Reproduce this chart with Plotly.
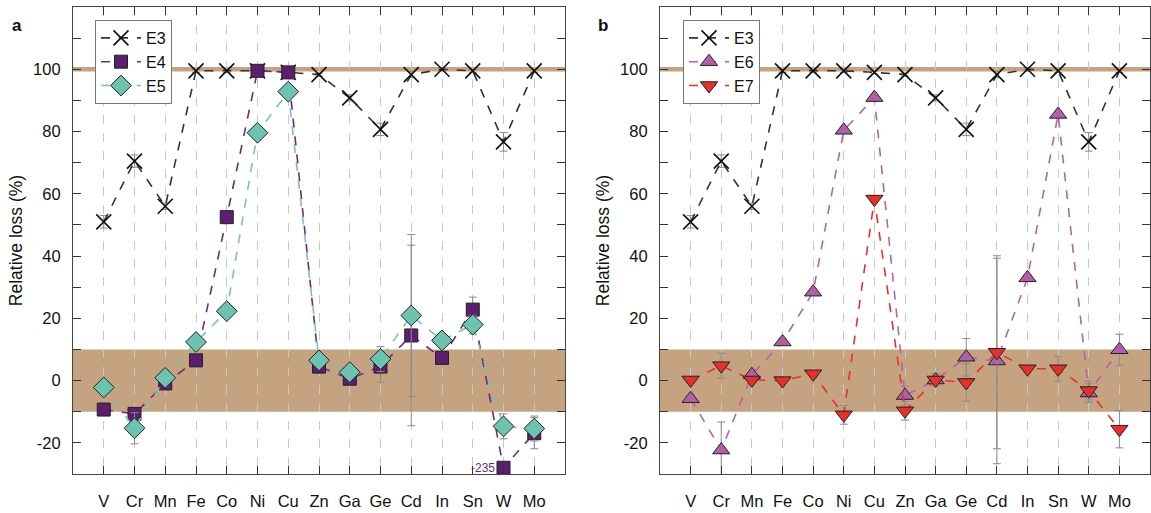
import plotly.graph_objects as go

elements = ["V", "Cr", "Mn", "Fe", "Co", "Ni", "Cu", "Zn", "Ga", "Ge", "Cd", "In", "Sn", "W", "Mo"]

e3 = [51, 70.5, 56, 99.5, 99.5, 99.5, 99, 98.3, 90.8, 80.7, 98.3, 100, 99.5, 76.7, 99.5]
e3_err = [2, 2, 1, 0.5, 0.5, 0.5, 0.5, 0.5, 1, 2, 1, 0.5, 0.5, 3, 0.5]

e4 = [-9.3, -10.7, -0.9, 6.5, 52.5, 99.5, 99, 4.5, 0.6, 4.5, 14.5, 7.3, 22.8, -28, -16.9]
e4_err = [1, 2, 1, 1, 1, 0.5, 0.5, 2, 1, 5, 29, 1, 4, 0, 5]
e4_offscale_label = "-235"

e5 = [-2.2, -15.3, 0.9, 12.4, 22.3, 79.6, 92.8, 6.5, 2.7, 6.9, 20.9, 12.9, 18, -14.7, -15.4]
e5_err = [1, 5, 1, 1, 1, 1, 1, 1, 1, 4, 26, 1, 3, 4, 4]

e6 = [-5.8, -22.3, 1.9, 12.4, 28.4, 80.4, 90.9, -4.8, 0.2, 7.5, 6.3, 33, 85.5, -4, 9.9]
e6_err = [1, 9, 1, 1, 1, 1, 1, 3, 2, 6, 33, 1, 1, 3, 5]

e7 = [0.2, 4.8, 0.2, 0, 2.2, -11, 58.3, -9.7, 0.2, -0.6, 9.1, 3.8, 3.8, -3.2, -15.6]
e7_err = [1, 4, 1, 1, 1, 3, 1, 3, 1, 6, 31, 1, 4, 3, 6]

xi = list(range(len(elements)))

W, H = 1151, 513
FONT = "Liberation Sans, Arial, sans-serif"
BAND = "rgb(198,163,128)"
ERR = dict(type="data", color="#8a8a8a", thickness=1, width=4)

fig = go.Figure()

def add(y, err, name, symbol, fill, line_color, size, xa, ya, legend, lw=1.0, mline="#222"):
    fig.add_trace(go.Scatter(
        x=xi, y=y, name=name, mode="lines+markers",
        xaxis=xa, yaxis=ya, legend=legend,
        line=dict(color=line_color, width=1.6, dash="dash"),
        marker=dict(symbol=symbol, size=size, color=fill,
                    line=dict(color=mline, width=lw)),
        error_y=dict(array=err, **ERR),
    ))

# panel a
add(e3, e3_err, "E3", "x-thin", "#111", "#333333", 15, "x", "y", "legend", lw=1.6, mline="#111")
add(e4, e4_err, "E4", "square", "rgb(92,30,112)", "rgb(105,45,125)", 13, "x", "y", "legend")
add(e5, e5_err, "E5", "diamond", "rgb(108,196,176)", "rgb(120,196,180)", 16, "x", "y", "legend")
# panel b
add(e3, e3_err, "E3", "x-thin", "#111", "#333333", 15, "x2", "y2", "legend2", lw=1.6, mline="#111")
add(e6, e6_err, "E6", "triangle-up", "rgb(178,96,164)", "rgb(180,100,165)", 15, "x2", "y2", "legend2")
add(e7, e7_err, "E7", "triangle-down", "rgb(232,48,42)", "rgb(232,48,42)", 15, "x2", "y2", "legend2")

# bands
for xr, yr in (("x", "y"), ("x2", "y2")):
    fig.add_shape(type="rect", xref=f"{xr} domain", yref=yr, x0=0, x1=1, y0=-10, y1=10,
                  fillcolor=BAND, line_width=0, layer="below")
    fig.add_shape(type="rect", xref=f"{xr} domain", yref=yr, x0=0, x1=1, y0=99.3, y1=100.7,
                  fillcolor=BAND, line_width=0, layer="below")

yt_vals = list(range(-20, 111, 10))
yt_text = [str(v) if v % 20 == 0 and v <= 100 else "" for v in yt_vals]

xaxis_common = dict(
    range=[-1, 15], tickmode="array", tickvals=xi, ticktext=elements,
    ticks="inside", ticklen=8, tickwidth=1, tickcolor="#333",
    showline=True, linecolor="#444", linewidth=1.2, mirror="ticks",
    showgrid=True, gridcolor="#c8c8c8", griddash="dash", gridwidth=1,
    zeroline=False, tickfont=dict(size=16.5, color="#111", family=FONT),
    ticklabelstandoff=12,
)
yaxis_common = dict(
    range=[-30, 120], tickmode="array", tickvals=yt_vals, ticktext=yt_text,
    ticks="inside", ticklen=8, tickwidth=1, tickcolor="#333",
    showline=True, linecolor="#444", linewidth=1.2, mirror="ticks",
    showgrid=False, zeroline=False,
    tickfont=dict(size=16.5, color="#111", family=FONT),
    title=dict(text="Relative loss (%)", font=dict(size=17.5, color="#111", family=FONT), standoff=5),
    ticklabelstandoff=8,
)

legend_common = dict(xanchor="left", yanchor="top", bgcolor="white", bordercolor="#777",
                     borderwidth=1, font=dict(size=16, family=FONT), tracegroupgap=0,
                     itemwidth=40)

ydom = [(H - 474) / H, (H - 7) / H]
fig.update_layout(
    width=W, height=H, margin=dict(l=0, r=0, t=0, b=0),
    paper_bgcolor="white", plot_bgcolor="white",
    font=dict(family=FONT, color="#111"),
    xaxis=dict(domain=[73 / W, 565 / W], anchor="y", **xaxis_common),
    yaxis=dict(domain=ydom, anchor="x", **yaxis_common),
    xaxis2=dict(domain=[660 / W, 1150 / W], anchor="y2", **xaxis_common),
    yaxis2=dict(domain=ydom, anchor="x2", **yaxis_common),
    legend=dict(x=95 / W, y=(H - 20) / H, **legend_common),
    legend2=dict(x=683 / W, y=(H - 20) / H, **legend_common),
    showlegend=True,
)

fig.add_annotation(x=13, y=-28, xref="x", yref="y", text=e4_offscale_label, showarrow=False,
                   xanchor="right", xshift=-7, font=dict(size=12, color="rgb(105,45,125)", family=FONT))
fig.add_annotation(x=10 / W, y=(H - 14) / H, xref="paper", yref="paper", text="<b>a</b>",
                   showarrow=False, font=dict(size=17, family=FONT, color="#111"))
fig.add_annotation(x=603 / W, y=(H - 14) / H, xref="paper", yref="paper", text="<b>b</b>",
                   showarrow=False, font=dict(size=17, family=FONT, color="#111"))

fig.write_html("out.html", config={"displayModeBar": False},
               post_script="document.body.style.margin='0';document.body.style.overflow='hidden';")
